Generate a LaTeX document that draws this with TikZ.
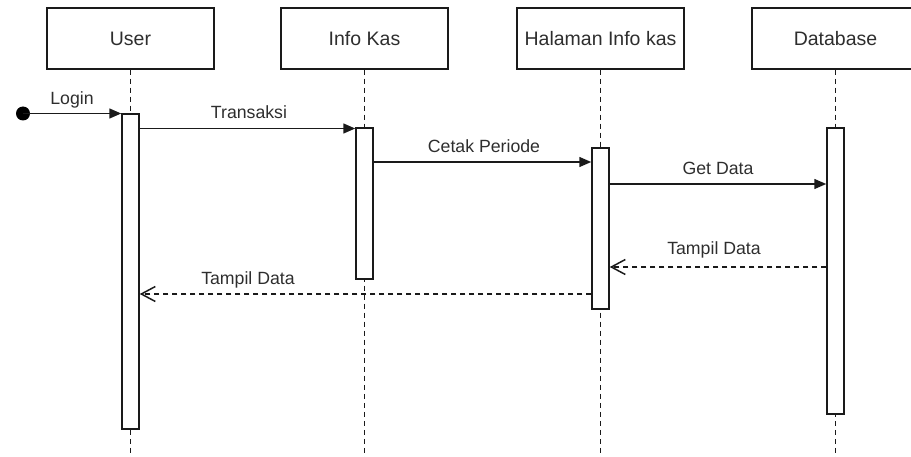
\documentclass[tikz,border=0pt]{standalone}
\usepackage{fontspec}
\setmainfont{Liberation Sans}
\usetikzlibrary{arrows.meta}
\definecolor{txt}{HTML}{2E2E2E}
\definecolor{ln}{HTML}{1A1A1A}
\tikzset{
  head/.style={draw=ln, line width=1.5pt, fill=white, minimum width=167pt, minimum height=61pt, inner sep=0pt, text=txt, font=\fontsize{19.5}{23}\selectfont},
  act/.style={draw=ln, line width=1.5pt, fill=white, minimum width=17pt, inner sep=0pt},
  life/.style={draw=ln, line width=1.3pt, dash pattern=on 5pt off 4pt},
  msg/.style={draw=ln, line width=1.5pt, -{Triangle[length=12pt,width=10pt]}},
  ret/.style={draw=ln, line width=1.3pt, dash pattern=on 5pt off 4pt, -{Straight Barb[length=14pt,width=15pt,line width=1.5pt]}},
  lbl/.style={text=txt, anchor=base, inner sep=0pt, font=\fontsize{17.7}{21}\selectfont}
}
\begin{document}
\begin{tikzpicture}[x=1pt,y=-1pt]
\useasboundingbox (0,0) rectangle (911,457);
\clip (0,0) rectangle (911,457);
% heads
\node[head] (user) at (130.5,38.5) {User};
\node[head] (info) at (364.5,38.5) {Info Kas};
\node[head] (hal) at (600.5,38.5) {Halaman Info kas};
\node[head] (db) at (835.5,38.5) {Database};
% lifeline ends
\coordinate (userEnd) at (130.5,460);
\coordinate (infoEnd) at (364.5,460);
\coordinate (halEnd) at (600.5,460);
\coordinate (dbEnd) at (835.5,460);
\draw[life] (user.south) -- (userEnd);
\draw[life] (info.south) -- (infoEnd);
\draw[life] (hal.south) -- (halEnd);
\draw[life] (db.south) -- (dbEnd);
% activations
\node[act, minimum height=315pt] (uact) at (130.5,271.5) {};
\node[act, minimum height=151pt] (iact) at (364.5,203.5) {};
\node[act, minimum height=161pt] (hact) at (600.5,228.5) {};
\node[act, minimum height=286pt] (dact) at (835.5,271) {};
% message levels
\coordinate (yLogin) at (0,113.5);
\coordinate (yTrans) at (0,128.5);
\coordinate (yCetak) at (0,162);
\coordinate (yGet) at (0,184);
\coordinate (yTamp1) at (0,267);
\coordinate (yTamp2) at (0,294);
% start dot
\node[circle, fill=black, minimum size=14pt, inner sep=0pt] (start) at (23,113.5) {};
\draw[msg] (start.center) -- (uact.west |- yLogin);
\node[lbl] (lLogin) at (72,105) {Login};
\draw[msg] (uact.east |- yTrans) -- (iact.west |- yTrans);
\node[lbl] (lTrans) at (249,119) {Transaksi};
\draw[msg] (iact.east |- yCetak) -- (hact.west |- yCetak);
\node[lbl] (lCetak) at (484,153) {Cetak Periode};
\draw[msg] (hact.east |- yGet) -- (dact.west |- yGet);
\node[lbl] (lGet) at (718,175) {Get Data};
\draw[ret] (dact.west |- yTamp1) -- (hact.east |- yTamp1);
\node[lbl] (lTamp1) at (714,255) {Tampil Data};
\draw[ret] (hact.west |- yTamp2) -- (uact.east |- yTamp2);
\node[lbl] (lTamp2) at (248,285) {Tampil Data};
\end{tikzpicture}
\end{document}
